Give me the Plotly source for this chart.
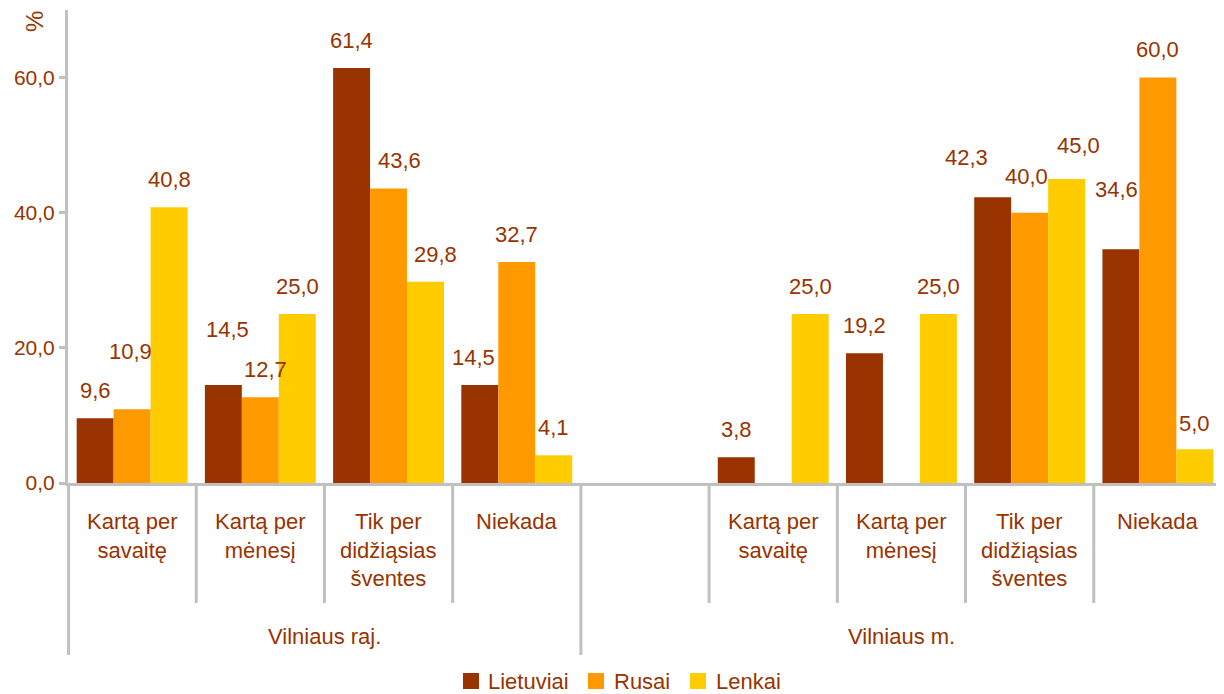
import plotly.graph_objects as go

# ---------------- data ----------------
groups = ["Vilniaus raj.", "Vilniaus m."]
categories = ["Kartą per<br>savaitę", "Kartą per<br>mėnesį", "Tik per<br>didžiąsias<br>šventes", "Niekada"]
series_names = ["Lietuviai", "Rusai", "Lenkai"]

lietuviai_raj = [9.6, 14.5, 61.4, 14.5]
rusai_raj = [10.9, 12.7, 43.6, 32.7]
lenkai_raj = [40.8, 25.0, 29.8, 4.1]

lietuviai_m = [3.8, 19.2, 42.3, 34.6]
rusai_m = [None, None, 40.0, 60.0]
lenkai_m = [25.0, 25.0, 45.0, 5.0]

y_ticks = [0, 20, 40, 60]

# ---------------- style ----------------
colors = ["#993300", "#FF9900", "#FFCC00"]
text_color = "#993300"
axis_color = "#C0C0C0"
font_family = "Liberation Sans, Arial, sans-serif"
bargap = 0.135
label_font = 22

# page has an 8px body margin; the figure is placed at (8, 8) on screen
OFF = 8
SCREEN_W, SCREEN_H = 1224, 694
PLOT_X0, PLOT_X1, PLOT_Y0, PLOT_Y1 = 68, 1222, 10, 483   # screen pixels
W, H = SCREEN_W - OFF, SCREEN_H - OFF
M_L, M_R = PLOT_X0 - OFF, SCREEN_W - PLOT_X1
M_T, M_B = PLOT_Y0 - OFF, SCREEN_H - PLOT_Y1
PW, PH = PLOT_X1 - PLOT_X0, PLOT_Y1 - PLOT_Y0


def px(xpix):
    return (xpix - PLOT_X0) / PW


def py(ypix):
    return (PLOT_Y1 - ypix) / PH


# manual nudges of data labels (group index, category index, series index) -> (xshift, yshift)
label_nudge = {
    (0, 0, 1): (-2, 58),
    (0, 1, 0): (4, 56),
    (0, 1, 1): (5, 28),
    (0, 2, 1): (11, 28),
    (0, 2, 2): (10, 27),
    (0, 3, 0): (-6, 28),
    (1, 2, 0): (-26, 40),
    (1, 2, 1): (-3, 36),
    (1, 2, 2): (12, 33),
    (1, 3, 0): (-4, 60),
    (1, 3, 2): (0, 26),
}

# slot layout: group raj -> 4 slots, then group m -> 1 empty slot + 4 slots
n_cat = len(categories)
group_slots = [
    list(range(0, n_cat)),
    list(range(n_cat + 1, 2 * n_cat + 1)),
]
group_spans = [(-0.5, n_cat - 0.5), (n_cat - 0.5, 2 * n_cat + 0.5)]
n_slots = 2 * n_cat + 1

values = [
    [lietuviai_raj, rusai_raj, lenkai_raj],
    [lietuviai_m, rusai_m, lenkai_m],
]

fig = go.Figure()
for k, name in enumerate(series_names):
    xs, ys = [], []
    for g in range(len(groups)):
        xs += group_slots[g]
        ys += values[g][k]
    fig.add_trace(go.Bar(
        x=xs, y=ys, name=name,
        marker=dict(color=colors[k], line=dict(width=0)),
    ))

annotations = []
bw = (1 - bargap) / len(series_names)

# data labels
for g in range(len(groups)):
    for k in range(len(series_names)):
        for c, v in enumerate(values[g][k]):
            if v is None:
                continue
            dx, dy = label_nudge.get((g, c, k), (0, 28))
            annotations.append(dict(
                x=group_slots[g][c] + (k - 1) * bw, y=v, xref="x", yref="y",
                text=f"{v:.1f}".replace(".", ","), showarrow=False,
                xanchor="center", yanchor="middle", xshift=dx, yshift=dy,
                font=dict(size=label_font, color=text_color, family=font_family),
            ))

# category labels
for g in range(len(groups)):
    for c, cat in enumerate(categories):
        annotations.append(dict(
            x=group_slots[g][c], y=0, xref="x", yref="paper",
            text=cat, showarrow=False, xanchor="center", yanchor="top",
            yshift=-24, align="center",
            font=dict(size=22, color=text_color, family=font_family),
        ))

# group labels
for g, gname in enumerate(groups):
    a, b = group_spans[g]
    annotations.append(dict(
        x=(a + b) / 2, y=0, xref="x", yref="paper",
        text=gname, showarrow=False, xanchor="center", yanchor="middle",
        yshift=-153,
        font=dict(size=22, color=text_color, family=font_family),
    ))

# "%" axis label
annotations.append(dict(
    x=px(35), y=py(22), xref="paper", yref="paper", text="%", showarrow=False,
    textangle=-90, xanchor="center", yanchor="middle",
    font=dict(size=24, color=text_color, family=font_family),
))

# divider lines below x axis
shapes = []
inner_bottom = py(603)
outer_bottom = py(655)
for g in range(len(groups)):
    slots = group_slots[g]
    bounds = [s + 0.5 for s in slots[:-1]]
    if g == 1:
        bounds.append(slots[0] - 0.5)
    for xb in bounds:
        xp = (xb + 0.5) / n_slots
        shapes.append(dict(type="line", xref="paper", yref="paper",
                           x0=xp, x1=xp, y0=0, y1=inner_bottom,
                           line=dict(color=axis_color, width=3)))
outer_bounds = sorted(set([s for span in group_spans for s in span]))
for xb in outer_bounds:
    xp = (xb + 0.5) / n_slots
    xp = min(max(xp, 0.0005), 0.9995)
    shapes.append(dict(type="line", xref="paper", yref="paper",
                       x0=xp, x1=xp, y0=0, y1=outer_bottom,
                       line=dict(color=axis_color, width=3)))

# manual legend
legend_sq_x = [463, 588, 690]
legend_tx_x = [486, 612, 714]
legend_y = 681
for k, name in enumerate(series_names):
    shapes.append(dict(type="rect", xref="paper", yref="paper",
                       x0=px(legend_sq_x[k]), x1=px(legend_sq_x[k] + 16),
                       y0=py(legend_y + 8), y1=py(legend_y - 8),
                       fillcolor=colors[k], line=dict(width=0)))
    annotations.append(dict(
        x=px(legend_tx_x[k]), y=py(legend_y), xref="paper", yref="paper",
        text=name, showarrow=False, xanchor="left", yanchor="middle",
        font=dict(size=22, color=text_color, family=font_family),
    ))

fig.update_layout(
    width=W, height=H,
    margin=dict(l=M_L, r=M_R, t=M_T, b=M_B, autoexpand=False),
    paper_bgcolor="white", plot_bgcolor="white",
    barmode="group", bargap=bargap, bargroupgap=0,
    separators=", ",
    font=dict(family=font_family, color=text_color),
    showlegend=False,
    xaxis=dict(range=[-0.5, n_slots - 0.5], showticklabels=False, ticks="",
               showgrid=False, zeroline=False, showline=True, automargin=False,
               linecolor=axis_color, linewidth=3, fixedrange=True),
    yaxis=dict(range=[0, 70], tickvals=y_ticks, tickformat=".1f",
               ticks="outside", ticklen=6, tickwidth=3, tickcolor=axis_color,
               showgrid=False, zeroline=False, showline=True, automargin=False,
               linecolor=axis_color, linewidth=3,
               tickfont=dict(size=21, color=text_color, family=font_family)),
    annotations=annotations,
    shapes=shapes,
)

fig.write_html("out.html")
